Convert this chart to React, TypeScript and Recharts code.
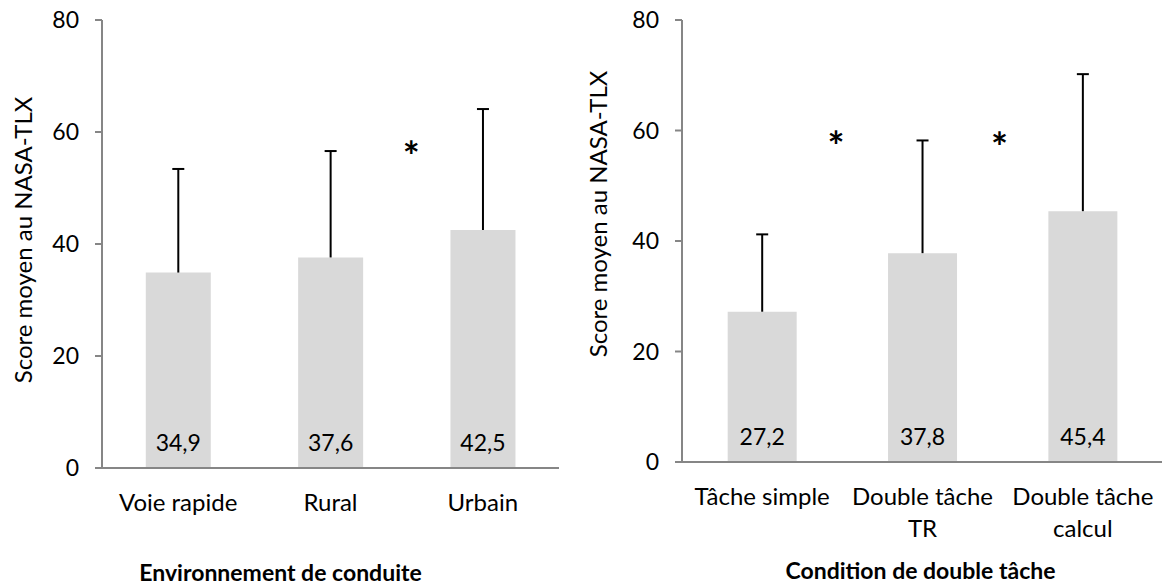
import React from "react";
import { ComposedChart, Bar, XAxis, YAxis, ReferenceDot, LabelList, Label } from "recharts";

// Environnement de conduite
const envCategories = ["Voie rapide", "Rural", "Urbain"];
const envMeans = [34.9, 37.6, 42.5];
const envSd = [18.5, 19.0, 21.6];
const envStars = [{ x: 2.03, y: 57.3 }];

// Condition de double tâche
const taskCategories = ["Tâche simple", "Double tâche\nTR", "Double tâche\ncalcul"];
const taskMeans = [27.2, 37.8, 45.4];
const taskSd = [14.0, 20.4, 24.8];
const taskStars = [
  { x: 0.96, y: 58.9 },
  { x: 1.98, y: 58.7 },
];

const yTicks = [0, 20, 40, 60, 80];
const yTitle = "Score moyen au NASA-TLX";

const FONT = "Lato, 'Open Sans', sans-serif";
const AXIS = "#868686";
const BAR = "#D9D9D9";

const fmt = (v: number) => v.toFixed(1).replace(".", ",");

function ErrorShape(props: any) {
  const { x, y, width, height } = props;
  const cx = x + width / 2;
  return (
    <g>
      <line x1={cx} x2={cx} y1={y + height} y2={y} stroke="#000" strokeWidth={2} />
      <line x1={cx - 6} x2={cx + 6} y1={y} y2={y} stroke="#000" strokeWidth={2} />
    </g>
  );
}

function CatTick(props: any) {
  const { x, y, payload } = props;
  const lines = String(payload.value).split("\n");
  return (
    <text x={x} y={y} textAnchor="middle" fontFamily={FONT} fontSize={24} fill="#000">
      {lines.map((l, i) => (
        <tspan key={i} x={x} dy={i === 0 ? 43 : 32}>
          {l}
        </tspan>
      ))}
    </text>
  );
}

type PanelProps = {
  categories: string[];
  means: number[];
  sds: number[];
  stars: { x: number; y: number }[];
  title: string;
  width: number;
  bottom: number;
  right: number;
  barGap: string;
  yLabelX: number;
  yLabelDy: number;
  titleDx: number;
  titleY: number;
};

function Panel(p: PanelProps) {
  const data = p.categories.map((c, i) => ({ cat: c, pos: i + 0.5, mean: p.means[i], sd: p.sds[i] }));
  return (
    <ComposedChart
      width={p.width}
      height={587}
      data={data}
      margin={{ top: 20, right: p.right, left: 0, bottom: p.bottom }}
      barCategoryGap={p.barGap}
    >
      <XAxis
        dataKey="cat"
        stroke={AXIS}
        strokeWidth={2}
        tickLine={false}
        tickSize={0}
        tickMargin={0}
        height={100}
        interval={0}
        tick={<CatTick />}
      >
        <Label
          content={(lp: any) => {
            const vb = lp.viewBox;
            return (
              <text
                x={vb.x + vb.width / 2 + p.titleDx}
                y={vb.y + p.titleY}
                textAnchor="middle"
                dominantBaseline="central"
                fontFamily={FONT}
                fontSize={23}
                fontWeight="bold"
                fill="#000"
              >
                {p.title}
              </text>
            );
          }}
        />
      </XAxis>
      <XAxis
        xAxisId="pos"
        dataKey="pos"
        type="number"
        domain={[0, 3]}
        allowDataOverflow
        padding={{ left: 0, right: 0 }}
        hide
      />
      <YAxis
        domain={[0, 80]}
        ticks={yTicks}
        width={102}
        stroke={AXIS}
        strokeWidth={2}
        tickSize={7}
        tickMargin={16}
        tick={{ fill: "#000", fontSize: 23, fontFamily: FONT }}
      >
        <Label
          content={(lp: any) => {
            const vb = lp.viewBox;
            const cy = vb.y + vb.height / 2 + p.yLabelDy;
            return (
              <text
                x={p.yLabelX}
                y={cy}
                transform={`rotate(-90 ${p.yLabelX} ${cy})`}
                textAnchor="middle"
                dominantBaseline="central"
                fontFamily={FONT}
                fontSize={24}
                fill="#000"
              >
                {yTitle}
              </text>
            );
          }}
        />
      </YAxis>
      <Bar dataKey="mean" stackId="a" fill={BAR} isAnimationActive={false}>
        <LabelList
          dataKey="mean"
          content={(lp: any) => (
            <text
              x={lp.x + lp.width / 2}
              y={lp.y + lp.height - 26}
              textAnchor="middle"
              dominantBaseline="central"
              fontFamily={FONT}
              fontSize={23}
              fill="#000"
            >
              {fmt(Number(lp.value))}
            </text>
          )}
        />
      </Bar>
      <Bar dataKey="sd" stackId="a" shape={<ErrorShape />} isAnimationActive={false} />
      {p.stars.map((s, i) => (
        <ReferenceDot
          key={i}
          xAxisId="pos"
          x={s.x}
          y={s.y}
          r={0}
          ifOverflow="visible"
          shape={(sp: any) => (
            <text
              x={sp.cx}
              y={sp.cy + 24}
              textAnchor="middle"
              fontFamily={FONT}
              fontSize={40}
              fontWeight="bold"
              fill="#000"
            >
              *
            </text>
          )}
        />
      ))}
    </ComposedChart>
  );
}

export default function App() {
  return (
    <div
      style={{
        position: "absolute",
        left: 0,
        top: 0,
        width: 1162,
        height: 587,
        background: "#fff",
        display: "flex",
        overflow: "hidden",
      }}
    >
      <div style={{ width: 580, height: 587 }}>
        <Panel
          categories={envCategories}
          means={envMeans}
          sds={envSd}
          stars={envStars}
          title="Environnement de conduite"
          width={580}
          bottom={19}
          right={21}
          barGap="28.75%"
          yLabelX={22}
          yLabelDy={-4}
          titleDx={-50}
          titleY={104}
        />
      </div>
      <div style={{ width: 582, height: 587, overflow: "hidden" }}>
        <Panel
          categories={taskCategories}
          means={taskMeans}
          sds={taskSd}
          stars={taskStars}
          title="Condition de double tâche"
          width={585}
          bottom={25}
          right={2}
          barGap="28.5%"
          yLabelX={17}
          yLabelDy={-27}
          titleDx={-2}
          titleY={108}
        />
      </div>
    </div>
  );
}
